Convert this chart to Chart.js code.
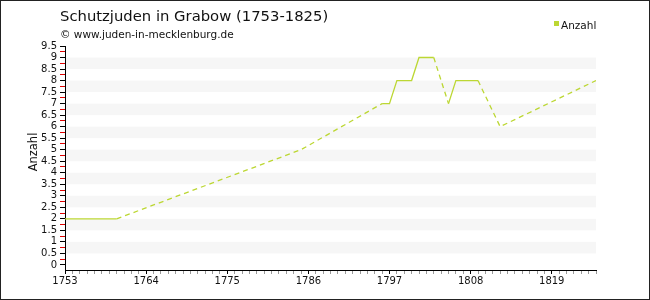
<!DOCTYPE html>
<html>
<head>
<meta charset="utf-8">
<script src="https://cdn.jsdelivr.net/npm/chart.js@4/dist/chart.umd.min.js"></script>
<style>
    body { margin: 0; background: #fff; }
    #wrap { position: relative; width: 650px; height: 300px; font-family: 'DejaVu Sans', sans-serif; color: #111; }
    #frame { position: absolute; left: 0; top: 0; width: 650px; height: 300px; box-sizing: border-box; border: 1px solid #222; pointer-events: none; }
    .txt { position: absolute; white-space: nowrap; }
    #title { left: 60px; top: 7px; font-size: 14.8px; line-height: 18px; }
    #subtitle { left: 60px; top: 28px; font-size: 10.5px; line-height: 13px; }
    #legend { left: 561px; top: 19px; font-size: 10.5px; line-height: 13px; }
    #legendBox { position: absolute; left: 554px; top: 21px; width: 5px; height: 5px; }
    #ytitle { left: 33px; top: 152px; font-size: 11.5px; transform: translate(-50%, -50%) rotate(-90deg); }
</style>
</head>
<body>
<div id="wrap">
    <canvas id="chart" width="650" height="300"></canvas>
    <div class="txt" id="title">Schutzjuden in Grabow (1753-1825)</div>
    <div class="txt" id="subtitle">© www.juden-in-mecklenburg.de</div>
    <div id="legendBox"></div>
    <div class="txt" id="legend">Anzahl</div>
    <div class="txt" id="ytitle">Anzahl</div>
    <div id="frame"></div>
</div>
<script>
// Data
const years = [1753, 1754, 1755, 1756, 1757, 1758, 1759, 1760, 1785, 1796, 1797, 1798, 1799, 1800,
    1801, 1802, 1803, 1805, 1806, 1807, 1808, 1809, 1812, 1825];
const counts = [2, 2, 2, 2, 2, 2, 2, 2, 5, 7, 7, 8, 8, 8,
    9, 9, 9, 7, 8, 8, 8, 8, 6, 8];
const seriesLabel = 'Anzahl';
const xLabelYears = [1753, 1764, 1775, 1786, 1797, 1808, 1819];
const yLabels = ['0', '0.5', '1', '1.5', '2', '2.5', '3', '3.5', '4', '4.5', '5',
    '5.5', '6', '6.5', '7', '7.5', '8', '8.5', '9', '9.5'];

const lineColor = '#bcd733';
document.getElementById('legendBox').style.background = lineColor;

// Light grey bands behind every other half-step
const bandsPlugin = {
    id: 'bands',
    beforeDatasetsDraw(chart) {
        const { ctx, chartArea, scales } = chart;
        const y = scales.y;
        ctx.save();
        ctx.fillStyle = '#f6f6f6';
        for (let i = 1; i < yLabels.length - 1; i += 2) {
            const top = y.getPixelForValue(parseFloat(yLabels[i + 1]));
            const bottom = y.getPixelForValue(parseFloat(yLabels[i]));
            ctx.fillRect(chartArea.left + 1, top, chartArea.right - chartArea.left - 1, bottom - top);
        }
        ctx.restore();
    }
};

const font = { family: "'DejaVu Sans', sans-serif", size: 10 };

new Chart(document.getElementById('chart').getContext('2d'), {
    type: 'line',
    data: {
        datasets: [{
            label: seriesLabel,
            data: years.map((yr, i) => ({ x: yr, y: counts[i] })),
            borderColor: lineColor,
            borderWidth: 1.3,
            pointRadius: 0,
            tension: 0,
            fill: false,
            segment: {
                borderDash: ctx => (ctx.p1.parsed.x - ctx.p0.parsed.x > 1 ? [5, 4] : undefined)
            }
        }]
    },
    options: {
        responsive: false,
        animation: false,
        events: [],
        layout: { padding: { top: 46, right: 54, left: 0, bottom: 0 } },
        plugins: {
            legend: { display: false },
            title: { display: false },
            tooltip: { enabled: false }
        },
        scales: {
            x: {
                type: 'linear',
                min: 1753,
                max: 1825,
                afterFit(scale) { scale.height = 30; },
                afterBuildTicks(scale) {
                    const t = [];
                    for (let v = 1753; v <= 1825; v++) t.push({ value: v });
                    scale.ticks = t;
                },
                border: { color: '#000', width: 1 },
                grid: {
                    drawOnChartArea: false,
                    tickLength: 4,
                    tickColor: c => (xLabelYears.includes(c.tick.value) ? '#000' : '#999')
                },
                ticks: {
                    autoSkip: false,
                    maxRotation: 0,
                    padding: 1,
                    color: '#111',
                    font,
                    callback: v => (xLabelYears.includes(v) ? String(v) : '')
                }
            },
            y: {
                min: -0.22,
                max: 9.5,
                afterFit(scale) { scale.width = 65; },
                afterBuildTicks(scale) {
                    const t = [];
                    for (let v = 0; v <= 9.5; v += 0.25) t.push({ value: v });
                    scale.ticks = t;
                },
                border: { color: '#000', width: 1 },
                grid: {
                    drawOnChartArea: false,
                    tickLength: 5,
                    tickColor: c => (Math.abs(c.tick.value * 2 - Math.round(c.tick.value * 2)) < 1e-6 ? '#000' : '#e00000')
                },
                ticks: {
                    autoSkip: false,
                    padding: 3,
                    color: '#111',
                    font,
                    callback: v => {
                        const i = Math.round(v * 2);
                        return Math.abs(v * 2 - i) < 1e-6 ? yLabels[i] : '';
                    }
                }
            }
        }
    },
    plugins: [bandsPlugin]
});
</script>
</body>
</html>
